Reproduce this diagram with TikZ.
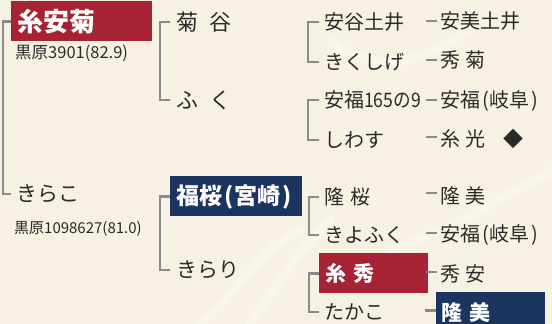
\documentclass[tikz,border=0pt]{standalone}
\usepackage{fontspec}
\setmainfont{Noto Sans CJK JP}
\definecolor{bgc}{HTML}{F6F1E3}
\definecolor{redc}{HTML}{A52332}
\definecolor{navyc}{HTML}{1C3460}
\definecolor{linec}{HTML}{8A8A8E}
\definecolor{txtc}{HTML}{2A2A2A}
\tikzset{
  sz/.style={font=\fontsize{#1}{#1}\selectfont, text height={0.88*#1pt}, text depth={0.12*#1pt}},
  lbl/.style={anchor=west, inner ysep=0pt, inner xsep=#1, text=txtc},
  lbl/.default=0pt,
  boxbase/.style={anchor=north west, inner ysep=0pt, inner xsep=#1, text=white, align=left,
    minimum height=40pt},
  redbox/.style={boxbase=#1, fill=redc},
  navybox/.style={boxbase=#1, fill=navyc},
  bracket/.style={draw=linec, line width=2.6pt},
  tick/.style={draw=linec, line width=2.6pt},
}
\newcommand{\pk}{\hspace{0.12em}}
\begin{document}
\begin{tikzpicture}[x=1pt,y=-1pt]
\useasboundingbox (0,0) rectangle (552,324);
\fill[bgc] (0,0) rectangle (552,324);
% faint texture
\begin{scope}[white, opacity=0.3, line width=9pt, line cap=round]
\draw (330,40) .. controls (380,80) and (420,60) .. (470,30);
\draw (250,324) .. controls (280,280) and (300,250) .. (330,220);
\draw (200,324) .. controls (240,290) and (260,250) .. (300,230);
\draw (390,250) .. controls (450,230) and (500,200) .. (552,170);
\end{scope}

% level 0
\node[redbox=6pt, text width=129pt, sz=26] (ian) at (11,1) {\bfseries 糸安菊};
\node[lbl, sz=16.5] (kuro1) at (15,52) {黒原3901(82.9)};
\node[lbl=5pt, sz=21] (kirako) at (11,194) {きらこ};
\node[lbl, sz=15] (kuro2) at (14,228) {黒原1098627(81.0)};
\draw[bracket] (ian.west) -- ++(-8,0) |- (kirako.west);

% level 1
\node[lbl=6pt, sz=22] (kikuya) at (170,22) {菊\hspace{0.5em}谷};
\node[lbl=6pt, sz=22] (fuku) at (170,100) {ふ\hspace{0.5em}く};
\node[navybox=6pt, text width=120pt, sz=23] (fukuzakura) at (170,176) {\bfseries 福桜\pk(宮崎\pk)};
\node[lbl=6pt, sz=21] (kirari) at (170,270) {きらり};
\draw[bracket] (kikuya.west) -- ++(-10,0) |- (fuku.west);
\draw[bracket] (fukuzakura.west) -- ++(-10,0) |- (kirari.west);

% level 2
\node[lbl=5pt, sz=20] (aya) at (319,22) {安谷土井};
\node[lbl=5pt, sz=20] (kikushige) at (319,62) {きくしげ};
\node[lbl=5pt, sz=20] (yf165) at (319,100) {安福\scalebox{0.88}[1]{165の9}};
\node[lbl=5pt, sz=20] (shiwasu) at (319,140) {しわす};
\node[lbl=5pt, sz=20] (ryuzakura) at (319,197) {隆\hspace{0.3em}桜};
\node[lbl=5pt, sz=20] (kiyofuku) at (319,235) {きよふく};
\node[redbox=6pt, text width=97pt, sz=21] (itohide) at (319,253) {\bfseries 糸\hspace{0.35em}秀};
\node[lbl=5pt, sz=20] (takako) at (319,312) {たかこ};
\draw[bracket] (aya.west) -- ++(-11,0) |- (kikushige.west);
\draw[bracket] (yf165.west) -- ++(-11,0) |- (shiwasu.west);
\draw[bracket] (ryuzakura.west) -- ++(-10,0) |- (kiyofuku.west);
\draw[bracket] (itohide.west) -- ++(-10,0) |- (takako.west);

% level 3
\node[lbl=3pt, sz=20] (yasumidoi) at (437,21) {安美土井};
\node[lbl=3pt, sz=20] (hidekiku) at (437,60) {秀\hspace{0.25em}菊};
\node[lbl=3pt, sz=20] (yfgifu1) at (437,100) {安福\pk(岐阜\pk)};
\node[lbl=3pt, sz=20] (itomitsu) at (437,139) {糸\hspace{0.25em}光\hspace{0.9em}◆};
\node[lbl=3pt, sz=20] (ryumi1) at (437,196) {隆\hspace{0.25em}美};
\node[lbl=3pt, sz=20] (yfgifu2) at (437,234) {安福\pk(岐阜\pk)};
\node[lbl=3pt, sz=20] (hideyasu) at (437,274) {秀\hspace{0.25em}安};
\node[navybox=5pt, text width=99pt, sz=21] (ryumi2) at (436,292) {\bfseries 隆\hspace{0.35em}美};
\foreach \n/\dy in {yasumidoi/0, hidekiku/0, yfgifu1/0, itomitsu/2, ryumi1/3, yfgifu2/1, hideyasu/2, ryumi2/2}
  \draw[tick] ([yshift=\dy pt]\n.west) -- ++(-11,0);
\end{tikzpicture}
\end{document}
